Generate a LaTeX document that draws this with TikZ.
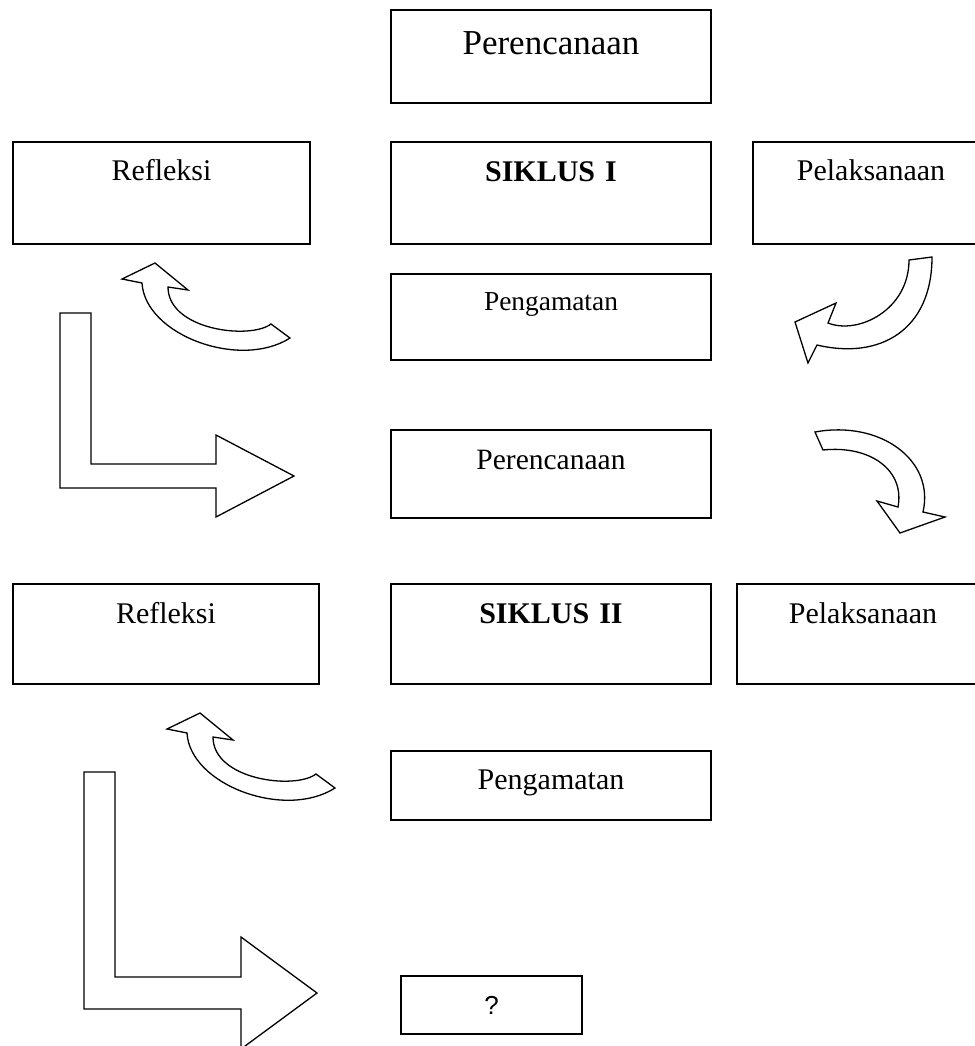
\documentclass[tikz,border=0pt]{standalone}
\usepackage{fontspec}
\setmainfont{Liberation Serif}
\newfontfamily\tanyafont{Liberation Sans}
\usepackage{tikz}
\usetikzlibrary{positioning, calc}

% curved block arrow (left side), drawn once and shifted
\newcommand{\panahlengkung}{(271,324) .. controls (250,340) and (168,330) .. (168,287) -- (188,290) -- (155,263) -- (122,279) -- (142,283) .. controls (145,335) and (240,370) .. (290,338) -- cycle}

\begin{document}
\begin{tikzpicture}[x=0.5pt, y=-0.5pt]
	\tikzstyle{kotak}=[draw=black, line width=1pt, inner sep=0pt, align=center, anchor=north west, text=black]
	\tikzstyle{garis}=[draw=black, line width=0.65pt, line join=miter, fill=white]
	\useasboundingbox (0,0) rectangle (975,1046);
	\clip (0,0) rectangle (975,1046);

	%% siklus I
	\node [kotak, text width=160pt, text height=22pt, text depth=24.5pt, font=\fontsize{17.5}{20}\selectfont] (P1) at (390,9) {Perencanaan};
	\node [kotak, text width=160pt, text height=19.5pt, text depth=31.5pt, font=\fontsize{15}{18}\selectfont] (S1) at (390,141) {\textbf{SIKLUS I}};
	\node [kotak, text width=148.5pt, text height=19pt, text depth=32pt, font=\fontsize{15}{18}\selectfont] (R1) at (12,141) {Refleksi};
	\node [kotak, text width=118pt, text height=19pt, text depth=32pt, font=\fontsize{15}{18}\selectfont] (L1) at (752,141) {Pelaksanaan};
	\node [kotak, text width=160pt, text height=18pt, text depth=25pt, font=\fontsize{13.7}{16}\selectfont] (A1) at (390,273) {Pengamatan};

	%% siklus II
	\node [kotak, text width=160pt, text height=19.5pt, text depth=24.5pt, font=\fontsize{14.75}{18}\selectfont] (P2) at (390,429) {Perencanaan};
	\node [kotak, text width=160pt, text height=19.5pt, text depth=30.5pt, font=\fontsize{15}{18}\selectfont] (S2) at (390,583) {\textbf{SIKLUS II}};
	\node [kotak, text width=153pt, text height=19.5pt, text depth=30.5pt, font=\fontsize{15}{18}\selectfont] (R2) at (12,583) {Refleksi};
	\node [kotak, text width=126pt, text height=19.5pt, text depth=30.5pt, font=\fontsize{15}{18}\selectfont] (L2) at (736,583) {Pelaksanaan};
	\node [kotak, text width=160pt, text height=19pt, text depth=15.5pt, font=\fontsize{15}{18}\selectfont] (A2) at (390,750) {Pengamatan};
	\node [kotak, text width=90.5pt, text height=19pt, text depth=10pt, font=\tanyafont\fontsize{13}{16}\selectfont] (Q) at (400,975) {?};

	%% panah lengkung
	\draw [garis] \panahlengkung;
	\draw [garis, shift={(45,450)}] \panahlengkung;
	\draw [garis] (909,260) -- (932,257) .. controls (932,330) and (880,360) .. (817,345) -- (808,363) -- (795,322) -- (836,303) -- (828,323) .. controls (858,335) and (909,310) .. (909,260) -- cycle;
	\draw [garis] (815,432) .. controls (880,420) and (935,460) .. (923,512) -- (945,517) -- (900,533) -- (877,501) -- (898,507) .. controls (905,470) and (870,445) .. (823,450) -- cycle;

	%% panah siku
	\draw [garis] (60,313) -- (91,313) -- (91,464) -- (216,464) -- (216,435) -- (294,476) -- (216,517) -- (216,488) -- (60,488) -- cycle;
	\draw [garis] (84,772) -- (115,772) -- (115,977) -- (241,977) -- (241,937) -- (317,993) -- (241,1049) -- (241,1009) -- (84,1009) -- cycle;
\end{tikzpicture}
\end{document}
